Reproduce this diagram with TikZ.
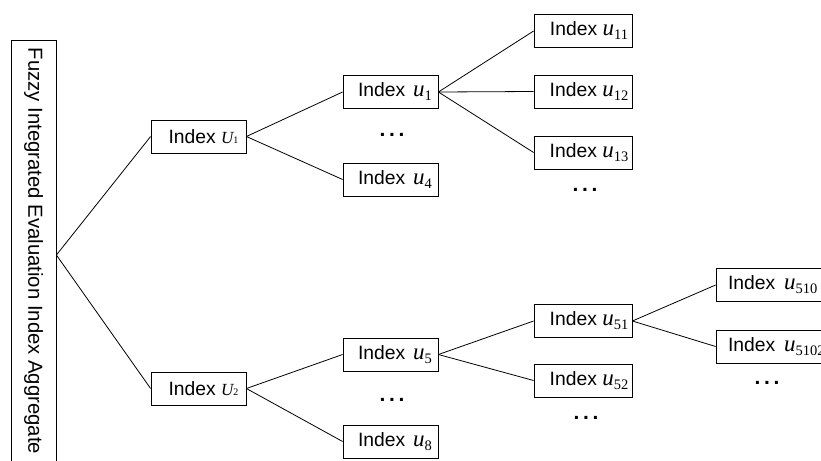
\documentclass[tikz,border=0pt]{standalone}
\usepackage{fontspec}
\setmainfont{Liberation Sans}
\newfontfamily\tms{Liberation Serif}
% index symbols: italic u with a lowered subscript, and capital U with a small index
\newcommand{\uidx}[1]{{\tms\itshape\fontsize{23}{23}\selectfont u}\raisebox{-4pt}{\tms\fontsize{14.5}{14.5}\selectfont #1}}
\newcommand{\Uidx}[1]{{\tms\itshape\fontsize{17}{17}\selectfont U}{\tms\fontsize{10}{10}\selectfont #1}}
% a spaced row of three dots
\newcommand{\rowdots}{\textbf{.}\hspace{3.6pt}\textbf{.}\hspace{3.6pt}\textbf{.}}
\begin{document}
\begin{tikzpicture}[x=1pt,y=-1pt,
  box/.style={draw, line width=0.8pt, minimum height=33pt, inner sep=0pt,
    font=\fontsize{19.3}{19.3}\selectfont},
  narrow/.style={box, minimum width=95pt},
  wide/.style={box, minimum width=98pt},
  open/.style={box, text width=110pt, align=left},
  dots/.style={font=\fontsize{21}{21}\selectfont, inner sep=0pt},
  link/.style={line width=0.8pt}]
\useasboundingbox (0,0) rectangle (821,460);

% root of the hierarchy
\node[draw, line width=0.8pt, minimum width=45pt, minimum height=430pt, inner sep=0pt]
  (root) at (33.5,255) {};
\node[rotate=-90, font=\fontsize{20.3}{20.3}\selectfont] (roottext) at (33.5,251)
  {Fuzzy Integrated Evaluation Index Aggregate};

% first level
\node[narrow] (U1) at (198.5,136.5) {\hspace{10pt}Index \Uidx{1}};
\node[narrow] (U2) at (198.5,388.5) {\hspace{10pt}Index \Uidx{2}};

% second level
\node[narrow] (u1) at (390.5,92)    {\hspace{9pt}Index\hspace{8pt}\uidx{1}};
\node[dots]   (d1) at (392,135)     {\rowdots};
\node[narrow] (u4) at (390.5,179.5) {\hspace{9pt}Index\hspace{8pt}\uidx{4}};
\node[narrow] (u5) at (390.5,354.5) {\hspace{9pt}Index\hspace{8pt}\uidx{5}};
\node[dots]   (d2) at (392,400)     {\rowdots};
\node[narrow] (u8) at (390.5,441.5) {\hspace{9pt}Index\hspace{8pt}\uidx{8}};

% third level
\node[wide] (u11) at (583,31)    {\hspace{12pt}Index \uidx{11}};
\node[wide] (u12) at (583,91.5)  {\hspace{12pt}Index \uidx{12}};
\node[wide] (u13) at (583,152.5) {\hspace{12pt}Index \uidx{13}};
\node[dots] (d3)  at (585,190)   {\rowdots};
\node[wide] (u51) at (583,321)   {\hspace{12pt}Index \uidx{51}};
\node[wide] (u52) at (583,380.5) {\hspace{12pt}Index \uidx{52}};
\node[dots] (d4)  at (586,418)   {\rowdots};

% fourth level
\node[open] (u510)  at (771,285)   {\hspace{12pt}Index\hspace{9pt}\uidx{510}};
\node[open] (u5102) at (771,346.5) {\hspace{12pt}Index\hspace{9pt}\uidx{5102}};
\node[dots] (d5) at (767,383) {\rowdots};

% connectors
\draw[link] (root.east) -- (U1.west);
\draw[link] (root.east) -- (U2.west);
\draw[link] (U1.east) -- (u1.west);
\draw[link] (U1.east) -- (u4.west);
\draw[link] (U2.east) -- (u5.west);
\draw[link] (U2.east) -- (u8.west);
\draw[link] (u1.east) -- (u11.west);
\draw[link] (u1.east) -- (u12.west);
\draw[link] (u1.east) -- (u13.west);
\draw[link] (u5.east) -- (u51.west);
\draw[link] (u5.east) -- (u52.west);
\draw[link] (u51.east) -- (u510.west);
\draw[link] (u51.east) -- (u5102.west);
\end{tikzpicture}
\end{document}
